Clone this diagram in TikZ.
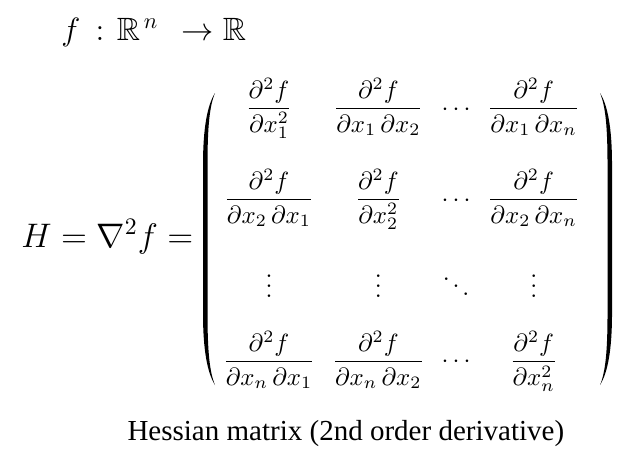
\documentclass[tikz,border=0pt]{standalone}
\usepackage{amsmath,amssymb}
\usepackage{fontspec}
\newfontfamily\capfont{Liberation Serif}
\usetikzlibrary{matrix}

\tikzset{
	px/.style={x=0.4019pt,y=-0.4019pt},
	formula/.style={inner sep=0pt,anchor=base west},
	parfill/.style={fill=black},
}

\begin{document}
\begin{tikzpicture}[px]
		\useasboundingbox (0,0) rectangle (637,463);
		\node[formula] (map) at (61,40)
		{\scalebox{0.9}{\fontsize{14.4}{17}\selectfont $f\mkern8.4mu{:}\mkern7mu\mathbb{R}^{\mkern3mu n}\mkern13mu{\to}\mkern5mu\mathbb{R}$}};
		\node[formula] (hess) at (21,247)
		{\fontsize{14.4}{17}\selectfont \scalebox{0.95}{$H = \nabla^2 f =$}};
		\matrix (m) [matrix of math nodes,matrix anchor=m-1-1.base,row sep=0pt,column sep=6.8pt,
		nodes={anchor=base,inner sep=0pt}] at (269,115)
		{
			\dfrac{\partial^2 f}{\partial x_1^2} & \dfrac{\partial^2 f}{\partial x_1\,\partial x_2} & \cdots & \dfrac{\partial^2 f}{\partial x_1\,\partial x_n}\\[36.57pt,between origins]
			\dfrac{\partial^2 f}{\partial x_2\,\partial x_1} & \dfrac{\partial^2 f}{\partial x_2^2} & \cdots & \dfrac{\partial^2 f}{\partial x_2\,\partial x_n}\\[36.77pt,between origins]
			\vdots & \vdots & \ddots & \vdots\\[28.33pt,between origins]
			\dfrac{\partial^2 f}{\partial x_n\,\partial x_1} & \dfrac{\partial^2 f}{\partial x_n\,\partial x_2} & \cdots & \dfrac{\partial^2 f}{\partial x_n^2}\\};
		% round brackets
		\fill[parfill] (215,93) .. controls (207.5,105) and (203,127) .. (203,165) -- (203,313)
		.. controls (203,351) and (207.5,373) .. (215,385)
		.. controls (209.5,372) and (207.5,351) .. (207.5,313) -- (207.5,165)
		.. controls (207.5,127) and (209.5,106) .. (215,93) -- cycle;
		\fill[parfill] (600,93) .. controls (607.5,105) and (612,127) .. (612,165) -- (612,313)
		.. controls (612,351) and (607.5,373) .. (600,385)
		.. controls (605.5,372) and (607.5,351) .. (607.5,313) -- (607.5,165)
		.. controls (607.5,127) and (605.5,106) .. (600,93) -- cycle;
		\node[formula] (caption) at (127,440)
		{\capfont\fontsize{11.66}{14}\selectfont Hessian matrix (2nd order derivative)};
\end{tikzpicture}
\end{document}
